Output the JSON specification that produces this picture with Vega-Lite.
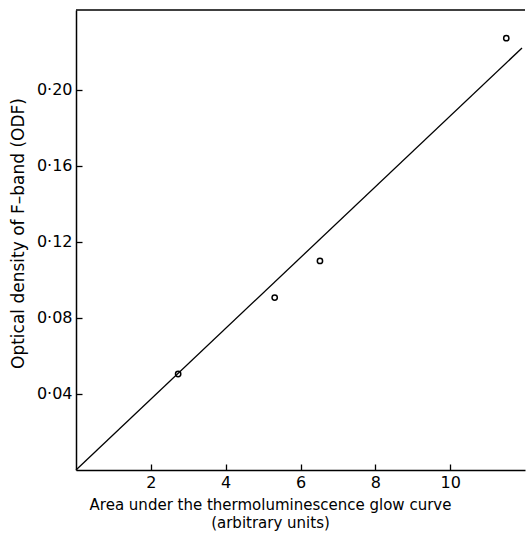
{
  "$schema": "https://vega.github.io/schema/vega-lite/v6.json",
  "width": 449,
  "height": 460,
  "autosize": {"type": "none"},
  "padding": {"left": 76, "top": 10, "right": 1, "bottom": 64},
  "background": "white",
  "view": {"stroke": null},
  "config": {
    "font": "DejaVu Sans",
    "axis": {
      "domainColor": "black",
      "domainWidth": 1.5,
      "tickColor": "black",
      "tickWidth": 1.3,
      "tickSize": -6,
      "grid": false,
      "labelColor": "black",
      "titleColor": "black",
      "labelFont": "DejaVu Sans",
      "titleFont": "DejaVu Sans",
      "labelFontSize": 16,
      "titleFontSize": 16,
      "titleFontWeight": "normal"
    }
  },
  "datasets": {
    "points": [
      {"area": 2.73, "od": 0.0505},
      {"area": 5.31, "od": 0.0907},
      {"area": 6.52, "od": 0.110},
      {"area": 11.5, "od": 0.2272}
    ],
    "fit": [
      {"area": 0, "od": 0},
      {"area": 11.92, "od": 0.222}
    ],
    "frame": [
      {"area": 0, "od": 0.242},
      {"area": 12, "od": 0.242}
    ]
  },
  "layer": [
    {
      "data": {"name": "frame"},
      "mark": {"type": "line", "color": "black", "strokeWidth": 1.5},
      "encoding": {
        "x": {"field": "area", "type": "quantitative"},
        "y": {"field": "od", "type": "quantitative"}
      }
    },
    {
      "data": {"name": "fit"},
      "mark": {"type": "line", "color": "black", "strokeWidth": 1.3},
      "encoding": {
        "x": {"field": "area", "type": "quantitative"},
        "y": {"field": "od", "type": "quantitative"}
      }
    },
    {
      "data": {"name": "points"},
      "mark": {"type": "point", "shape": "circle", "filled": false, "color": "black", "strokeWidth": 1.5, "size": 28, "opacity": 1},
      "encoding": {
        "x": {
          "field": "area",
          "type": "quantitative",
          "scale": {"domain": [0, 12], "nice": false},
          "axis": {
            "values": [2, 4, 6, 8, 10],
            "title": ["Area under the thermoluminescence glow curve", "(arbitrary units)"],
            "labelPadding": 10,
            "titleX": 194,
            "titleY": 27,
            "titleAlign": "center",
            "titleBaseline": "top",
            "titleFontSize": 15,
            "titleLineHeight": 18
          }
        },
        "y": {
          "field": "od",
          "type": "quantitative",
          "scale": {"domain": [0, 0.242], "nice": false},
          "axis": {
            "values": [0.04, 0.08, 0.12, 0.16, 0.2],
            "labelExpr": "replace(format(datum.value, '.2f'), '.', '·')",
            "title": "Optical density of F–band (ODF)",
            "labelPadding": 10,
            "titleX": -58,
            "titleY": 223,
            "titleAlign": "center",
            "titleBaseline": "middle",
            "titleFontSize": 17
          }
        }
      }
    }
  ]
}
